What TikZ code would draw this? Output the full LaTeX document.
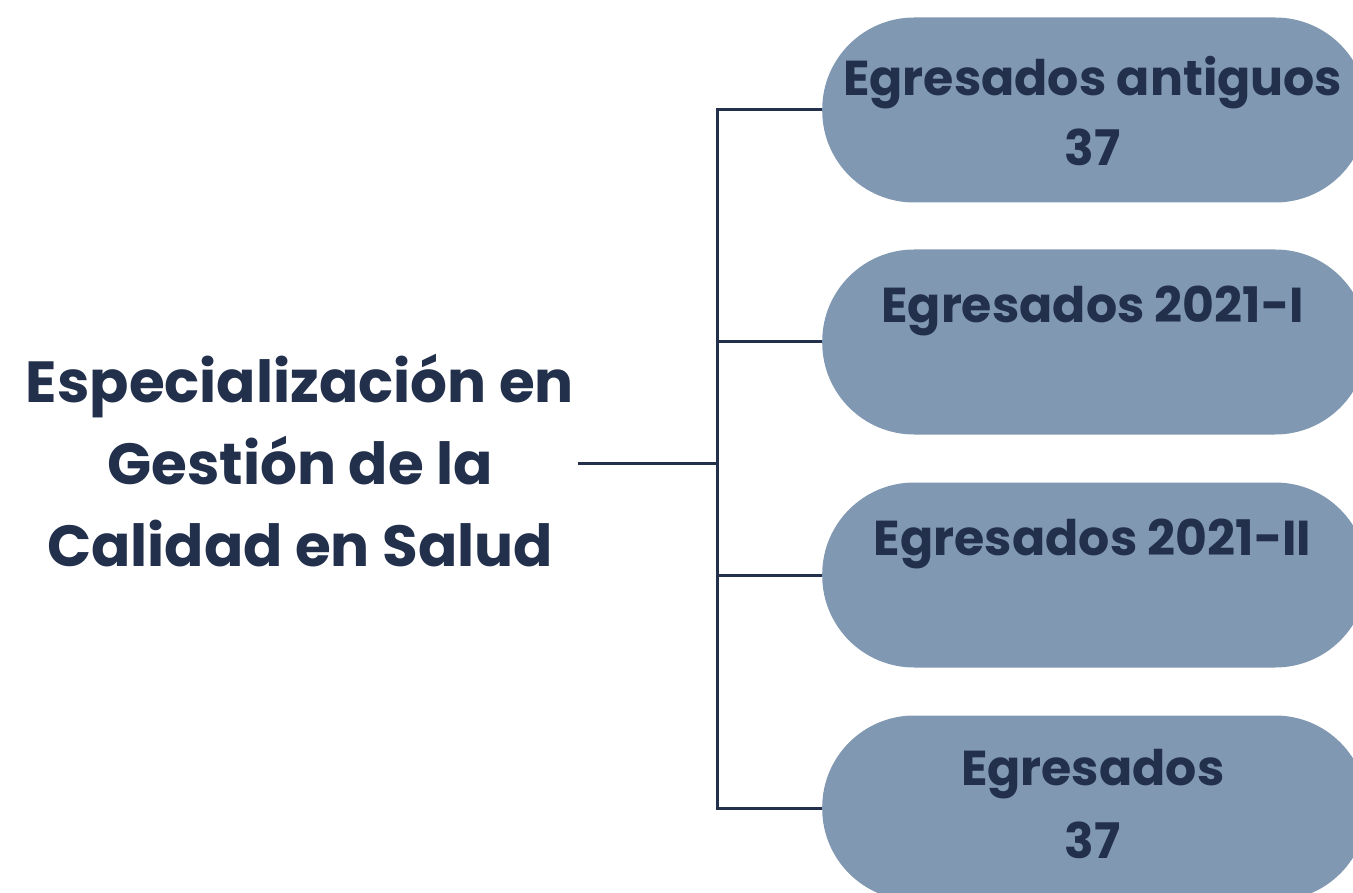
\documentclass[tikz,border=0pt]{standalone}
\usepackage{fontspec}
\setmainfont{Poppins}
\definecolor{ink}{HTML}{22304C}
\definecolor{pill}{HTML}{8198B2}
\begin{document}
\begin{tikzpicture}[x=1pt,y=-1pt,
  pillbox/.style={fill=pill, rounded corners=92pt, minimum width=545pt, minimum height=185pt, inner sep=0pt, anchor=west},
  pilltext/.style={text=ink, font=\fontsize{49}{70}\selectfont\bfseries, align=center, inner sep=0pt},
  maintext/.style={text=ink, font=\fontsize{58}{82}\selectfont\bfseries, align=center, inner sep=0pt},
  conn/.style={draw=ink, line width=3pt}]
\useasboundingbox (0,0) rectangle (1353,893);
\clip (0,0) rectangle (1353,893);
\node[maintext] (main) at (300,461) {Especialización en\\Gestión de la\\Calidad en Salud};
\node[pillbox] (b1) at (822,110) {};
\node[pillbox] (b2) at (822,342) {};
\node[pillbox] (b3) at (822,575) {};
\node[pillbox] (b4) at (822,808) {};
\node[pilltext] (t1) at ([xshift=-2pt,yshift=-1pt]b1.center) {Egresados antiguos\\37};
\node[pilltext] (t2) at ([xshift=-2pt,yshift=-8pt]b2.center) {Egresados 2021-I\\\strut};
\node[pilltext] (t3) at ([xshift=-2pt,yshift=-8pt]b3.center) {Egresados 2021-II\\\strut};
\node[pilltext] (t4) at ([xshift=-2pt,yshift=4pt]b4.center) {Egresados\\[3pt]37};
\coordinate (start) at (578,463);
\coordinate (hub) at (717,463);
\draw[conn] (start) -- (hub);
\draw[conn] (b1.west) -| (hub) |- (b4.west);
\draw[conn] (hub |- b2.west) -- (b2.west);
\draw[conn] (hub |- b3.west) -- (b3.west);
\end{tikzpicture}
\end{document}
